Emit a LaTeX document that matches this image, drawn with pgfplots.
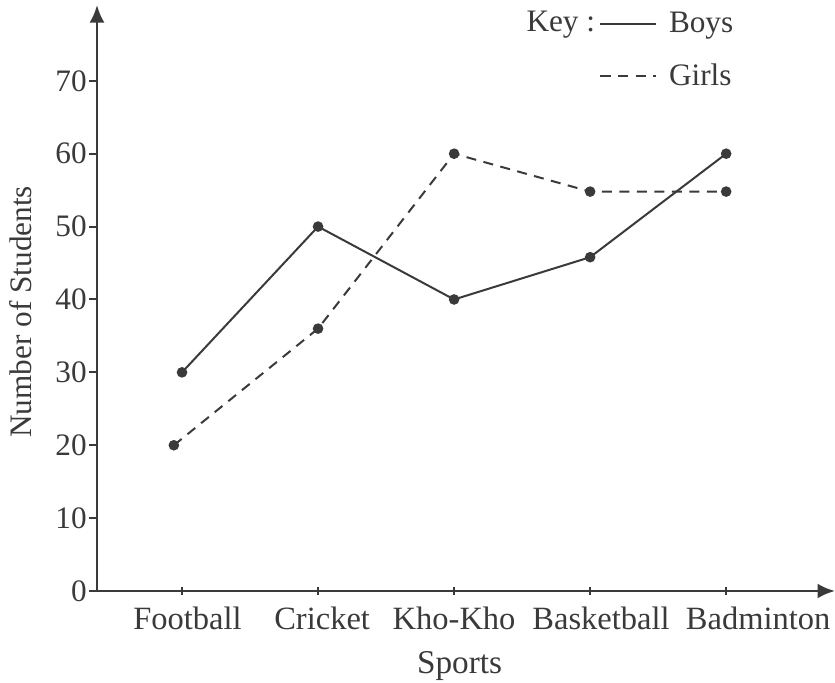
\documentclass[border=0pt]{standalone}
\usepackage{pgfplots}
\pgfplotsset{compat=1.18}
\usepackage{fontspec}
\setmainfont{Liberation Serif}
\usetikzlibrary{arrows.meta}
\definecolor{ink}{HTML}{3A3A3A}
\begin{document}
\begin{tikzpicture}
\begin{axis}[
    scale only axis,
    width=295.2pt, height=234.4pt,
    xmin=-0.625, xmax=4.8,
    ymin=0, ymax=80.4,
    axis lines=left,
    axis line style={ink, line width=1.1pt, -{Latex[length=7pt,width=6pt]}},
    xtick={0,1,2,3,4},
    xticklabel=\empty,
    % category names sit slightly off their ticks, as in the source
    extra x ticks={0.04,1.03,2,3.08,4.235},
    extra x tick labels={Football,Cricket,Kho-Kho,Basketball,Badminton},
    extra x tick style={major tick length=0pt},
    ytick={0,10,...,70},
    xtick align=center,
    ytick align=outside,
    major tick length=3pt,
    tick style={ink, line width=0.8pt},
    /pgf/number format/assume math mode=true,
    xticklabel style={font=\fontsize{13}{15}\selectfont, text=ink, anchor=base, yshift=-15.2pt},
    yticklabel style={font=\fontsize{12.5}{14}\selectfont, text=ink, anchor=east, xshift=2.4pt},
    xlabel={Sports},
    ylabel={Number of Students},
    every axis x label/.style={at={(axis cs:2.04,0)}, anchor=base, yshift=-32.8pt,
        font=\fontsize{13.3}{15}\selectfont, text=ink},
    every axis y label/.style={at={(axis cs:-0.625,38.3)}, rotate=90, anchor=center, yshift=30.5pt,
        font=\fontsize{12.5}{14}\selectfont, text=ink},
    legend style={draw=none, fill=none, at={(axis cs:3.01,80.9)}, anchor=north west,
        font=\fontsize{12.5}{14}\selectfont, text=ink, row sep=7pt,
        /tikz/every odd column/.append style={column sep=3pt}},
    legend cell align=left,
    legend image code/.code={\draw[#1] (0pt,0pt) -- (22pt,0pt);},
    clip=false,
]
\addplot[ink, line width=0.8pt, mark=*, mark size=1.7pt] coordinates {
    (0,30) (1,50) (2,40) (3,45.8) (4,60)
};
\addlegendentry{Boys}
\addplot[ink, line width=0.8pt, dash pattern=on 4pt off 3pt, mark=*, mark size=1.7pt, mark options={solid}] coordinates {
    (-0.06,20) (1,36) (2,60) (3,54.8) (4,54.8)
};
\addlegendentry{Girls}
\node[anchor=base east, font=\fontsize{12.5}{14}\selectfont, text=ink, inner sep=0pt] at (axis cs:3.04,76.7) {Key :};
\end{axis}
\pgfresetboundingbox
\useasboundingbox (-38.8pt,-36.4pt) rectangle (295.2pt,236.4pt);
\end{tikzpicture}
\end{document}
